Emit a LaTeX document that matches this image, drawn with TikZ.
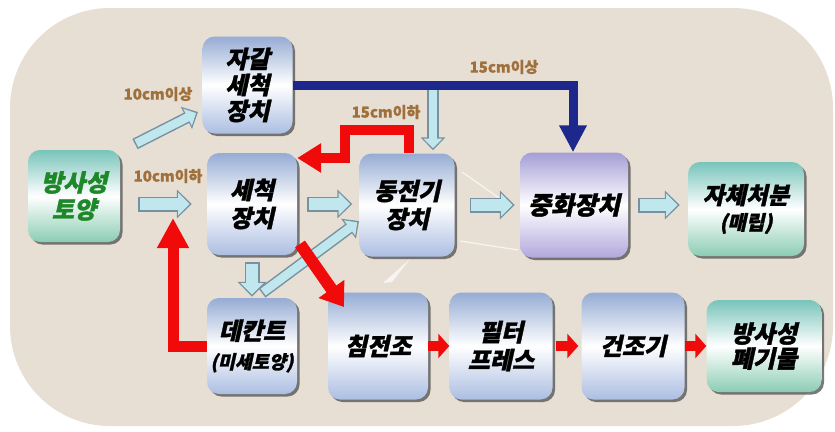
\documentclass[tikz,border=0pt]{standalone}
\usepackage{fontspec}
\newfontfamily\kr{Noto Sans CJK KR}[UprightFeatures={FakeSlant=0.22,FakeBold=1.5}, BoldFeatures={FakeSlant=0.22,FakeBold=1.5}]
\newfontfamily\krn{Noto Sans CJK KR}[BoldFeatures={FakeBold=1}]
\usetikzlibrary{arrows.meta,shadows,calc}
\definecolor{bg}{RGB}{231,223,212}
\definecolor{boxtop}{RGB}{150,172,212}
\definecolor{boxbot}{RGB}{172,190,226}
\definecolor{grtop}{RGB}{120,196,186}
\definecolor{grbot}{RGB}{140,205,180}
\definecolor{vtop}{RGB}{165,158,214}
\definecolor{vbot}{RGB}{178,168,220}
\definecolor{lbfill}{RGB}{192,230,238}
\definecolor{lbedge}{RGB}{120,145,160}
\definecolor{arrred}{RGB}{240,10,10}
\definecolor{navyc}{RGB}{30,40,140}
\definecolor{lbl}{RGB}{160,112,60}
\definecolor{grtext}{RGB}{30,135,40}
\tikzset{
  box/.style={rounded corners=12pt, top color=boxtop, bottom color=boxbot, middle color=white,
    drop shadow={shadow xshift=2.5pt, shadow yshift=-2.5pt, fill=black!65, opacity=.8},
    font=\kr\bfseries\fontsize{24}{28}\selectfont, align=center, inner sep=0pt},
  gbox/.style={box, top color=grtop, bottom color=grbot, middle color=white},
  vbox/.style={box, top color=vtop, bottom color=vbot, middle color=white},
  lab/.style={font=\krn\bfseries\fontsize{15}{15}\selectfont, text=lbl, inner sep=0pt},
  lbo/.style={draw=lbedge, line width=15pt, -{Triangle[length=15pt,width=28pt]}},
  lbi/.style={draw=lbfill, line width=12pt, -{Triangle[length=11.5pt,width=22.5pt]}},
  lbos/.style={draw=lbedge, line width=11.5pt, -{Triangle[length=13pt,width=24pt]}},
  lbis/.style={draw=lbfill, line width=8.5pt, -{Triangle[length=9.5pt,width=18.5pt]}},
  redarr/.style={draw=arrred, line width=10pt, -{Triangle[length=24pt,width=28pt]}},
  redsmall/.style={draw=arrred, line width=10pt, -{Triangle[length=11pt,width=24pt]}},
  navyarr/.style={draw=navyc, line width=9pt, -{Triangle[length=27pt,width=26pt]}},
}
\newcommand\blk[6]{%
  \draw[#1, shorten <=#5, shorten >=#6] (#3) -- (#4);
  \draw[#2, shorten <=#5+1.5pt, shorten >=#6+2.2pt] (#3) -- (#4);}
\begin{document}
\begin{tikzpicture}[x=1pt,y=-1pt]
\useasboundingbox (0,0) rectangle (835,431);
\fill[bg, rounded corners=100pt] (10,8) rectangle (833,426);
% faint white light rays
\draw[white, line width=1.2pt, opacity=.7] (462,172) -- (512,207);
\draw[white, line width=1.2pt, opacity=.7] (460,241) -- (518,250);
\fill[white, opacity=.7] (383,283) -- (410,259) -- (392,282) -- cycle;

% nodes
\node[box, minimum width=90pt, minimum height=97pt, font=\kr\bfseries\fontsize{24}{26}\selectfont] (gravel) at (247.5,85) {자갈\\세척\\장치};
\node[gbox, minimum width=92pt, minimum height=92pt, text=grtext, font=\kr\bfseries\fontsize{24}{27}\selectfont] (soil) at (74,196) {방사성\\토양};
\node[box, minimum width=90pt, minimum height=102pt] (wash) at (252,204) {세척\\장치};
\node[box, minimum width=95pt, minimum height=103pt] (ek) at (407,205) {동전기\\장치};
\node[vbox, minimum width=108pt, minimum height=105pt, font=\kr\bfseries\fontsize{25}{28}\selectfont] (neut) at (574,205) {중화장치};
\node[gbox, minimum width=116pt, minimum height=94pt, font=\kr\bfseries\fontsize{23.5}{26}\selectfont] (self) at (746,209) {자체처분\\{\fontsize{20}{20}\selectfont(매립)}};
\node[box, minimum width=90pt, minimum height=96pt, font=\kr\bfseries\fontsize{24}{29}\selectfont] (dec) at (252,346) {데칸트\\{\fontsize{18.5}{18.5}\selectfont(미세토양)}};
\node[box, minimum width=100pt, minimum height=107pt] (sed) at (378,346) {침전조};
\node[box, minimum width=103pt, minimum height=107pt] (fp) at (501,346) {필터\\프레스};
\node[box, minimum width=103pt, minimum height=107pt] (dry) at (633,346) {건조기};
\node[gbox, minimum width=115pt, minimum height=92pt, font=\kr\bfseries\fontsize{24}{25}\selectfont] (waste) at (764,346) {방사성\\폐기물};

% labels
\node[lab] (l1) at (158,94) {10cm이상};
\node[lab] (l2) at (168,176) {10cm이하};
\node[lab] (l3) at (386,112) {15cm이하};
\node[lab] (l4) at (504,67) {15cm이상};

% coordinates
\coordinate (d1) at (135,144);
\coordinate (d2) at (198,112);
\coordinate (e1) at (262,293);
\coordinate (e2) at (359,221);
\coordinate (lb1) at (433,86);
\coordinate (nv) at (573,85);
\coordinate (r1) at (409,130);
\coordinate (r2) at (345,130);
\coordinate (r3) at (345,158);
\coordinate (rb) at (173,346);
\coordinate (rt) at (173,218);
\coordinate (g1) at (300,244);
\coordinate (g2) at (344,307);

% light blue block arrows
\blk{lbo}{lbi}{soil.east |- wash.west}{wash.west}{18pt}{15pt}
\blk{lbo}{lbi}{wash.east}{wash.east -| ek.west}{10pt}{7pt}
\blk{lbo}{lbi}{ek.east}{ek.east -| neut.west}{15pt}{5pt}
\blk{lbo}{lbi}{neut.east}{neut.east -| self.west}{10pt}{8pt}
\blk{lbo}{lbi}{wash.south}{dec.north}{7pt}{1pt}
\blk{lbos}{lbis}{d1}{d2}{0pt}{0pt}
\blk{lbos}{lbis}{e1}{e2}{0pt}{0pt}
\blk{lbos}{lbis}{lb1}{lb1 |- ek.north}{0pt}{3pt}

% navy arrow
\draw[navyarr] (gravel.east) -- (nv) -- (nv |- neut.north);

% red arrows
\draw[redarr] (ek.north -| r1) -- (r1) -- (r2) -- (r3) -- (r3 -| wash.east);
\draw[redarr, line width=11pt, -{Triangle[length=30pt,width=30pt]}] (dec.west) -- (rb) -- (rt);
\draw[redarr, line width=12pt, -{Triangle[length=22pt,width=30pt]}] (g1) -- (g2);
\draw[redsmall] (sed.east) -- (fp.west);
\draw[redsmall, shorten <=3pt, shorten >=3pt] (fp.east) -- (dry.west);
\draw[redsmall] (dry.east) -- (waste.west);
\end{tikzpicture}
\end{document}
